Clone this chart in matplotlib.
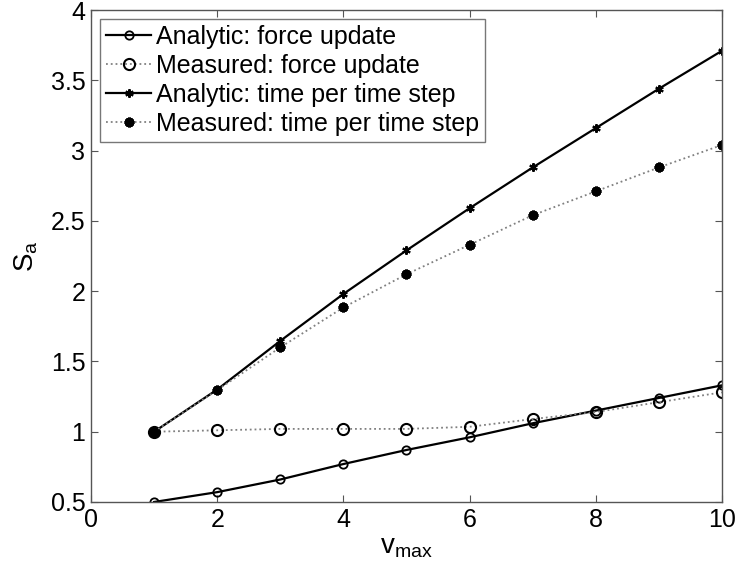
import matplotlib
matplotlib.use("Agg")
import matplotlib.pyplot as plt

plt.rcParams['font.family'] = ['Liberation Sans', 'DejaVu Sans']
plt.rcParams['mathtext.fontset'] = 'custom'
plt.rcParams['mathtext.rm'] = 'Liberation Sans'

vmax = [1, 2, 3, 4, 5, 6, 7, 8, 9, 10]
analytic_force = [0.50, 0.57, 0.66, 0.77, 0.87, 0.96, 1.06, 1.15, 1.24, 1.33]
measured_force = [1.00, 1.01, 1.02, 1.02, 1.02, 1.035, 1.09, 1.14, 1.21, 1.28]
analytic_step = [1.00, 1.30, 1.646, 1.98, 2.29, 2.59, 2.88, 3.16, 3.44, 3.71]
measured_step = [1.00, 1.296, 1.60, 1.884, 2.12, 2.33, 2.54, 2.71, 2.88, 3.04]
labels = ["Analytic: force update", "Measured: force update",
          "Analytic: time per time step", "Measured: time per time step"]

fig = plt.figure(figsize=(7.37, 5.76), dpi=100)
ax = fig.add_axes([0.1235, 0.1285, 0.856, 0.854])

ast = (6, 2, 0)
ax.plot(vmax, analytic_force, '-', color='black', lw=1.6, marker='o', ms=6,
        mfc='none', mec='black', mew=1.3, label=labels[0])
ax.plot(vmax, measured_force, ':', color='#808080', lw=1.3, marker='o', ms=8,
        mfc='none', mec='black', mew=1.5, label=labels[1])
ax.plot(vmax, analytic_step, '-', color='black', lw=1.6, marker=ast, ms=6,
        mec='black', mew=1.5, label=labels[2])
ax.plot(vmax, measured_step, ':', color='#808080', lw=1.3, marker=(8, 2, 0), ms=7,
        mec='black', mew=2.2, label=labels[3])

ax.set_xlim(0, 10)
ax.set_ylim(0.5, 4)
ax.set_xticks([0, 2, 4, 6, 8, 10])
ax.set_yticks([0.5, 1, 1.5, 2, 2.5, 3, 3.5, 4])
ax.set_yticklabels(['0.5', '1', '1.5', '2', '2.5', '3', '3.5', '4'])
ax.tick_params(direction='in', top=True, right=True, labelsize=18, length=5,
               color='#555555', pad=4)
for s in ax.spines.values():
    s.set_color('#555555')
    s.set_linewidth(1.0)

ax.set_xlabel(r'$\mathregular{v_{max}}$', fontsize=20, labelpad=2)
ax.set_ylabel(r'$\mathregular{S_a}$', fontsize=20, labelpad=8)

leg = ax.legend(loc='upper left', fontsize=18, frameon=True, fancybox=False,
                edgecolor='#555555', handlelength=1.8, handletextpad=0.2,
                borderaxespad=0.35, labelspacing=0.2, borderpad=0.25)
leg.get_frame().set_linewidth(1.0)

fig.savefig('out.png', dpi=100)
